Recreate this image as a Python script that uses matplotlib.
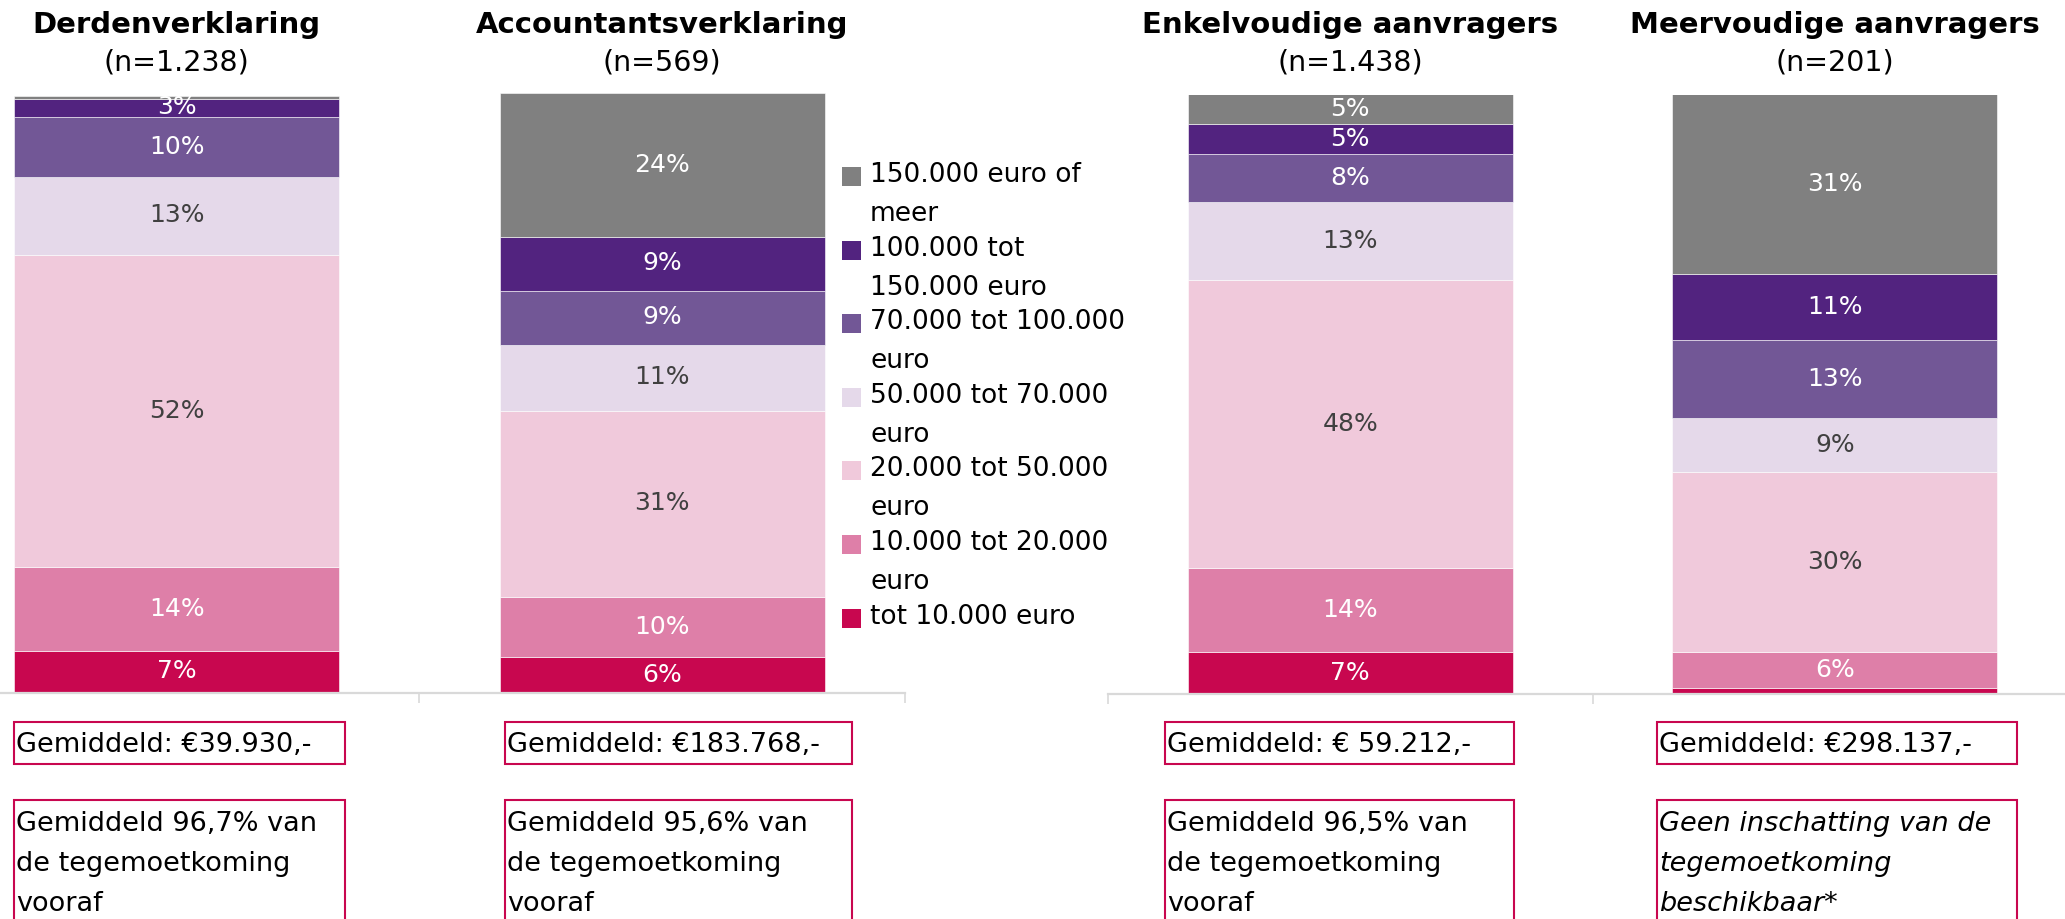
import numpy as np
import matplotlib.pyplot as plt
import matplotlib.transforms as mtransforms
from matplotlib.patches import Rectangle

### Figure size in pixels (dpi 100)
W, H = 2065, 919

### Data: share of applicants per size class (bottom -> top of each bar)
categories = ['tot 10.000 euro', '10.000 tot 20.000 euro', '20.000 tot 50.000 euro',
              '50.000 tot 70.000 euro', '70.000 tot 100.000 euro',
              '100.000 tot 150.000 euro', '150.000 euro of meer']
colors = ['#C8074F', '#DE7FA8', '#F0C9DB', '#E5D9EA', '#725796', '#52237F', '#808080']
textcolors = ['white', 'white', '#404040', '#404040', 'white', 'white', 'white']

groups_left = ['Derdenverklaring', 'Accountantsverklaring']
n_left = ['(n=1.238)', '(n=569)']
groups_right = ['Enkelvoudige aanvragers', 'Meervoudige aanvragers']
n_right = ['(n=1.438)', '(n=201)']

derden = [7, 14, 52, 13, 10, 3, 0.5]
accountant = [6, 10, 31, 11, 9, 9, 24]
enkelvoudig = [7, 14, 48, 13, 8, 5, 5]
meervoudig = [1, 6, 30, 9, 13, 11, 31]

gemiddeld = ['Gemiddeld: €39.930,-', 'Gemiddeld: €183.768,-',
             'Gemiddeld: € 59.212,-', 'Gemiddeld: €298.137,-']
vooraf = ['Gemiddeld 96,7% van\nde tegemoetkoming\nvooraf',
          'Gemiddeld 95,6% van\nde tegemoetkoming\nvooraf',
          'Gemiddeld 96,5% van\nde tegemoetkoming\nvooraf',
          'Geen inschatting van de\ntegemoetkoming\nbeschikbaar*']
vooraf_italic = [False, False, False, True]

legend_lines = [['150.000 euro of', 'meer'], ['100.000 tot', '150.000 euro'],
                ['70.000 tot 100.000', 'euro'], ['50.000 tot 70.000', 'euro'],
                ['20.000 tot 50.000', 'euro'], ['10.000 tot 20.000', 'euro'],
                ['tot 10.000 euro']]
legend_order = [6, 5, 4, 3, 2, 1, 0]

plt.rcParams['font.family'] = 'DejaVu Sans'

fig = plt.figure(figsize=(W / 100, H / 100), dpi=100)

def fx(px):
    return px / W

def fy(py):
    return 1 - py / H

### Two axes, each holding two bars
ax_l = fig.add_axes([fx(-66), fy(692.5), fx(971), 600 / H])
ax_r = fig.add_axes([fx(1108), fy(693.5), fx(969), 599 / H])

def draw_panel(ax, data, titles, ns):
    vals = np.array(data, dtype=float)
    x = np.arange(len(vals))
    bottom = np.zeros(len(vals))
    for j in range(len(categories)):
        bars = ax.bar(x, vals[:, j], 0.67, bottom=bottom, color=colors[j],
                      edgecolor='white', linewidth=0.4, zorder=2)
        labs = ['%d%%' % round(v) if v >= 2 else '' for v in vals[:, j]]
        ax.bar_label(bars, labels=labs, label_type='center', color=textcolors[j],
                     fontsize=18)
        bottom += vals[:, j]
    ax.set_xlim(-0.5, 1.5)
    ax.set_ylim(0, 100)
    for s in ['top', 'left', 'right']:
        ax.spines[s].set_visible(False)
    ax.spines['bottom'].set_color('#D9D9D9')
    ax.spines['bottom'].set_linewidth(1.6)
    ax.set_yticks([])
    ax.set_xticks([-0.5, 0.5, 1.5])
    ax.set_xticklabels([])
    ax.tick_params(axis='x', length=7.5, width=1.2, color='#D9D9D9', direction='out')
    trans = mtransforms.blended_transform_factory(ax.transData, fig.transFigure)
    for i, (t, n) in enumerate(zip(titles, ns)):
        ax.text(i, fy(33), t, transform=trans, ha='center', va='baseline',
                fontsize=21, fontweight='bold', color='black')
        ax.text(i, fy(71), n, transform=trans, ha='center', va='baseline',
                fontsize=20.5, color='black')

draw_panel(ax_l, [derden, accountant], groups_left, n_left)
draw_panel(ax_r, [enkelvoudig, meervoudig], groups_right, n_right)

### Legend drawn by hand (square + wrapped label lines)
for k, j in enumerate(legend_order):
    top = 167 + k * 73.6
    fig.add_artist(Rectangle((fx(842), fy(top + 19)), fx(19), 19 / H,
                             transform=fig.transFigure, color=colors[j], lw=0))
    for m, line in enumerate(legend_lines[k]):
        fig.text(fx(870), fy(182 + k * 73.6 + m * 39), line, ha='left',
                 va='baseline', fontsize=19, color='black')

### Text boxes under the bars
box_x = [(14, 345), (505, 852), (1165, 1514), (1657, 2017)]
for i, (x0, x1) in enumerate(box_x):
    fig.add_artist(Rectangle((fx(x0), fy(764)), fx(x1 - x0), 42 / H,
                             transform=fig.transFigure, facecolor='white',
                             edgecolor='#C8074F', lw=1.5))
    fig.text(fx(x0 + 2), fy(752), gemiddeld[i], ha='left', va='baseline',
             fontsize=19.5, color='black')
    fig.add_artist(Rectangle((fx(x0), fy(940)), fx(x1 - x0), 140 / H,
                             transform=fig.transFigure, facecolor='white',
                             edgecolor='#C8074F', lw=1.5))
    for m, line in enumerate(vooraf[i].split('\n')):
        fig.text(fx(x0 + 2), fy(831 + m * 40), line, ha='left', va='baseline',
                 fontsize=19.5, color='black',
                 style='italic' if vooraf_italic[i] else 'normal')

fig.savefig('out.png', dpi=100, facecolor='white')
